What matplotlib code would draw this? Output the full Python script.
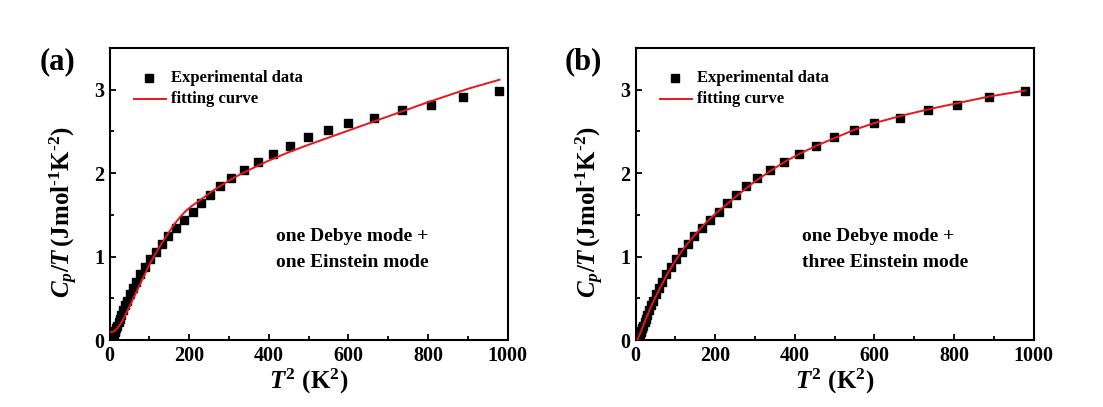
import numpy as np
import matplotlib
matplotlib.use('Agg')
import matplotlib.pyplot as plt
from matplotlib.ticker import MultipleLocator

t2_data = [3.6, 4.4, 5.3, 6.3, 7.3, 8.4, 9.6, 11, 13, 15, 17, 20, 23, 26, 30, 35, 40, 45,
           52, 59, 67, 77, 88, 102, 117, 132, 148, 168, 188, 209, 230, 253, 277, 306,
           338, 372, 412, 453, 499, 549, 599, 664, 734, 807, 887, 978]
cpt_data = [0.005, 0.01, 0.015, 0.02, 0.03, 0.04, 0.05, 0.07, 0.09, 0.11, 0.14, 0.17, 0.21,
            0.25, 0.30, 0.36, 0.42, 0.47, 0.55, 0.62, 0.70, 0.79, 0.88, 0.97, 1.06, 1.15,
            1.25, 1.34, 1.44, 1.54, 1.64, 1.74, 1.84, 1.94, 2.04, 2.13, 2.23, 2.33, 2.43,
            2.52, 2.60, 2.66, 2.76, 2.82, 2.91, 2.98]

# fitting curve (a): one Debye + one Einstein
fit_a_x = [0, 10, 20, 30, 40, 50, 60, 70, 80, 90, 100, 115, 130, 145, 160, 175, 190, 205,
           220, 240, 260, 280, 300, 330, 360, 400, 450, 500, 600, 700, 800, 900, 980]
fit_a_y = [0.09, 0.10, 0.14, 0.21, 0.30, 0.40, 0.50, 0.60, 0.70, 0.80, 0.90, 1.03, 1.15,
           1.26, 1.37, 1.46, 1.54, 1.60, 1.65, 1.72, 1.79, 1.85, 1.91, 1.99, 2.06, 2.15,
           2.25, 2.34, 2.51, 2.68, 2.85, 3.01, 3.12]

# fitting curve (b): one Debye + three Einstein
fit_b_x = [4, 10, 20, 30, 40, 50, 60, 70, 80, 100, 120, 140, 160, 180, 200, 230, 260, 300,
           340, 380, 420, 460, 500, 550, 600, 670, 740, 810, 890, 980]
fit_b_y = [0.0, 0.06, 0.18, 0.30, 0.41, 0.51, 0.61, 0.70, 0.79, 0.95, 1.09, 1.21, 1.32,
           1.42, 1.51, 1.63, 1.75, 1.90, 2.03, 2.15, 2.25, 2.34, 2.42, 2.52, 2.60, 2.69,
           2.77, 2.84, 2.92, 2.99]

panel_labels = ['(a)', '(b)']
mode_text = ['one Debye mode +\none Einstein mode',
             'one Debye mode +\nthree Einstein mode']

plt.rcParams['font.family'] = 'Liberation Serif'
plt.rcParams['font.weight'] = 'bold'
plt.rcParams['mathtext.fontset'] = 'custom'
plt.rcParams['mathtext.rm'] = 'Liberation Serif:bold'
plt.rcParams['mathtext.it'] = 'Liberation Serif:italic:bold'
plt.rcParams['mathtext.bf'] = 'Liberation Serif:bold'

fig = plt.figure(figsize=(11.03, 4.07), dpi=100)
W, H = 1103, 407
ax_lefts = [109.5, 635.5]
axes = []
for left in ax_lefts:
    axes.append(fig.add_axes([left / W, (H - 340) / H, 398 / W, 292 / H]))

fits = [(fit_a_x, fit_a_y), (fit_b_x, fit_b_y)]
for i, ax in enumerate(axes):
    ax.plot(t2_data, cpt_data, 's', color='black', markersize=6.2, zorder=2)
    ax.plot(fits[i][0], fits[i][1], '-', color='#e8161b', linewidth=1.4, zorder=3)
    ax.set_xlim(0, 1000)
    ax.set_ylim(0, 3.5)
    ax.xaxis.set_major_locator(MultipleLocator(200))
    ax.xaxis.set_minor_locator(MultipleLocator(100))
    ax.yaxis.set_major_locator(MultipleLocator(1))
    ax.yaxis.set_minor_locator(MultipleLocator(0.5))
    ax.tick_params(which='both', direction='in', top=False, right=False,
                   width=1.3, labelsize=14.5, pad=4)
    ax.tick_params(which='major', length=4)
    ax.tick_params(which='minor', length=3)
    for sp in ax.spines.values():
        sp.set_linewidth(1.5)
    ax.set_xlabel(r'$T^2\ \mathrm{(K^2)}$', fontsize=18, labelpad=1)
    ax.set_ylabel(r'$C_p/T\,\mathrm{(Jmol^{\text{-}1}K^{\text{-}2})}$', fontsize=18)
    ax.yaxis.set_label_coords(-0.075, 0.44)

    # legend drawn by hand to match the original placement
    ax.plot([0.10], [0.897], 's', color='black', markersize=6.2, transform=ax.transAxes)
    ax.plot([0.062, 0.142], [0.825, 0.825], '-', color='#e8161b', linewidth=1.4,
            transform=ax.transAxes)
    ax.text(0.155, 0.897, 'Experimental data', transform=ax.transAxes, fontsize=12,
            va='center', ha='left', fontweight='bold')
    ax.text(0.155, 0.825, 'fitting curve', transform=ax.transAxes, fontsize=12,
            va='center', ha='left', fontweight='bold')

    ax.text(0.418, 0.31, mode_text[i], transform=ax.transAxes, fontsize=14,
            va='center', ha='left', fontweight='bold', linespacing=1.7)

    fig.text((ax_lefts[i] - 52) / W, (H - 62) / H, panel_labels[i], fontsize=22,
             fontweight='bold', ha='center', va='center')

fig.savefig('out.png', dpi=100)
